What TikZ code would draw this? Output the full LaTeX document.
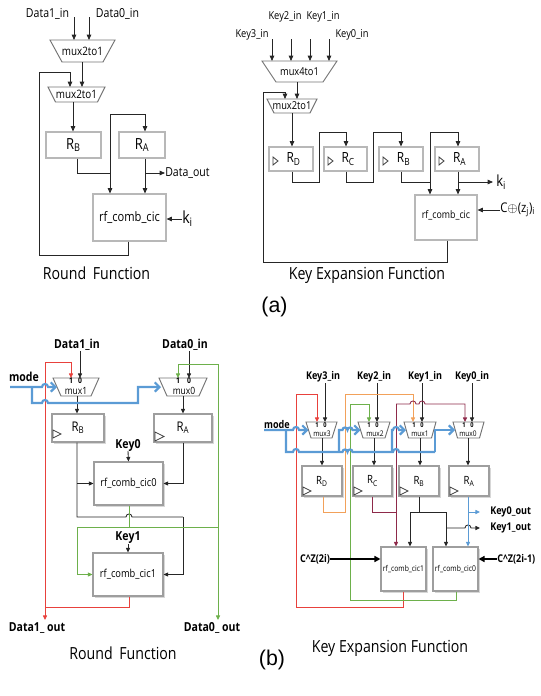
\documentclass[tikz,border=0pt]{standalone}
\usepackage{fontspec}
\setmainfont{Open Sans}
\newfontfamily\osf[FakeStretch=0.85]{Open Sans}
\newfontfamily\arf{Liberation Sans}
\usetikzlibrary{arrows.meta,shadows}
\newcommand\myfs[1]{\fontsize{#1}{#1}\selectfont}
\newcommand\hop[2]{-- (#1-3,#2) .. controls (#1-3,#2-4) and (#1+3,#2-4) .. (#1+3,#2)}
\newcommand\hopp[2]{-- (#1-2.5,#2) .. controls (#1-2.5,#2-3.4) and (#1+2.5,#2-3.4) .. (#1+2.5,#2)}
\newcommand\muxdraw[2]{\draw[muxline] (#1.north west) -- (#1.north east) -- ([xshift=-#2*0.75pt]#1.south east) -- ([xshift=#2*0.75pt]#1.south west) -- cycle;}
\newcommand\clk[4]{\draw[clkline] (#1,#2) -- (#1+#3,#2+#4/2) -- (#1,#2+#4) -- cycle;}
\definecolor{wred}{HTML}{E8413C}
\definecolor{wgreen}{HTML}{6DB04B}
\definecolor{worange}{HTML}{F2A15A}
\definecolor{wpurple}{HTML}{8E2A4A}
\definecolor{wblue}{HTML}{5B9BD5}
\tikzset{
 wire/.style={draw=black!85, line width=0.65pt},
 arr/.style={wire, -{Triangle[length=4pt,width=3.4pt]}},
 sarr/.style={wire, -{Triangle[length=3.4pt,width=3pt]}},
 tarr/.style={draw=black, line width=1.4pt, -{Triangle[length=4.5pt,width=4.5pt]}},
 cw/.style={draw=#1, line width=0.65pt},
 carr/.style={draw=#1, line width=0.65pt, -{Triangle[length=3.4pt,width=3pt]}},
 bw/.style={draw=wblue, line width=1.6pt, line join=miter},
 barr/.style={bw, -{Straight Barb[length=3.5pt,width=7pt]}},
 bx/.style={draw=black!28, line width=0.8pt, fill=white, inner sep=0pt},
 bbx/.style={draw=black!38, line width=0.8pt, fill=white, inner sep=0pt,
   drop shadow={shadow xshift=1.3pt, shadow yshift=-1.3pt, opacity=0.35, fill=black!45}},
 sz/.style 2 args={minimum width=#1*0.75pt, minimum height=#2*0.75pt},
 muxn/.style={inner sep=0pt, outer sep=0pt},
 muxline/.style={draw=black!55, line width=0.7pt},
 clkline/.style={draw=black!75, line width=0.6pt},
 la/.style={font={\osf\myfs{9.3}}, inner sep=0pt},
 lk/.style={font={\osf\myfs{8.2}}, inner sep=0pt},
 bl/.style={font={\osf\bfseries\myfs{9.3}}, inner sep=0pt},
 bk/.style={font={\osf\bfseries\myfs{8}}, inner sep=0pt},
 dg/.style={font={\osf\bfseries\myfs{#1}}, inner sep=0pt},
 title/.style={font={\osf\myfs{12.5}}, inner sep=0pt}
}
\begin{document}
\begin{tikzpicture}[x=0.75pt,y=-0.75pt]
\useasboundingbox (0,0) rectangle (541,696);

% ================= (a) Round Function =================
\node[la] (ad1) at (47.5,14) {Data1\_in};
\node[la] (ad0) at (117.5,14) {Data0\_in};
\node[muxn,sz={65}{22},font={\osf\myfs{8.7}}] (am1) at (82.5,51) {mux2to1};
\muxdraw{am1}{12}
\node[muxn,sz={57}{15},font={\osf\myfs{8.7}}] (am2) at (76.5,94.5) {mux2to1};
\muxdraw{am2}{7.5}
\node[bx,sz={55}{26},font={\osf\myfs{11.5}}] (arb) at (73.5,145) {R\textsubscript{B}};
\node[bx,sz={46}{26},font={\osf\myfs{11.5}}] (ara) at (142,145) {R\textsubscript{A}};
\node[bx,sz={73}{47},font={\osf\myfs{9.8}}] (arf) at (129.5,217.5) {rf\_comb\_cic};
\node[font={\osf\myfs{12.5}},inner sep=0pt,anchor=west] (aki) at (182,219) {k\textsubscript{i}};
\node[la,anchor=west] (adout) at (165,173) {Data\_out};
\node[title] (atl) at (96.5,273) {Round\hspace{5pt}Function};

\draw[arr] (74,17) -- (74,0 |- am1.north);
\draw[arr] (89,17) -- (89,0 |- am1.north);
\draw[arr] (82,0 |- am1.south) -- (82,0 |- am2.north);
\draw[arr] (128,0 |- arf.south) -- (128,255) -- (39,255) -- (39,72) -- (70,72) -- (70,0 |- am2.north);
\draw[arr] (73,0 |- am2.south) -- (73,0 |- arb.north);
\draw[wire] (77,0 |- arb.south) -- (77,173) -- (110,173);
\draw[arr] (110,114) -- (110,0 |- arf.north);
\draw[arr] (110,114) -- (145,114) -- (145,0 |- ara.north);
\draw[arr] (145,0 |- ara.south) -- (145,0 |- arf.north);
\draw[arr] (145,173) -- (adout.west);
\draw[arr] (aki.west) -- (arf.east |- aki.west);

% ================= (a) Key Expansion =================
\node[lk] (ak2) at (285,17) {Key2\_in};
\node[lk] (ak1) at (323,17) {Key1\_in};
\node[lk] (ak3) at (252,35) {Key3\_in};
\node[lk] (ak0) at (352,35) {Key0\_in};
\node[muxn,sz={75}{21},font={\osf\myfs{8.2}}] (am4) at (299.5,71.5) {mux4to1};
\muxdraw{am4}{14}
\node[muxn,sz={50}{14},font={\osf\myfs{8.2}}] (am5) at (292,106) {mux2to1};
\muxdraw{am5}{7}
\node[bx,sz={44}{24},font={\osf\myfs{10.5}}] (akd) at (291,159) {\hspace{4pt}R\textsubscript{D}};
\node[bx,sz={43}{24},font={\osf\myfs{10.5}}] (akc) at (345.5,159) {\hspace{4pt}R\textsubscript{C}};
\node[bx,sz={44}{24},font={\osf\myfs{10.5}}] (akb) at (401,159) {\hspace{4pt}R\textsubscript{B}};
\node[bx,sz={44}{24},font={\osf\myfs{10.5}}] (aka) at (457,159) {\hspace{4pt}R\textsubscript{A}};
\clk{273}{157}{5}{8}
\clk{328}{157}{5}{8}
\clk{383}{157}{5}{8}
\clk{439}{157}{5}{8}
\node[bx,sz={62}{45},font={\osf\myfs{7.8}}] (akf) at (446,217.5) {\raisebox{4pt}{rf\_comb\_cic}};
\node[font={\osf\myfs{11.5}},inner sep=0pt,anchor=west] (akki) at (496,182) {k\textsubscript{i}};
\node[font={\osf\myfs{10}},inner sep=0pt,anchor=west] (akcz) at (500,210) {C$\oplus$(z\textsubscript{j})\textsubscript{i}};
\node[title] (aktl) at (367,275) {Key Expansion Function};

\draw[arr] (272,39) -- (272,0 |- am4.north);
\draw[arr] (291,39) -- (291,0 |- am4.north);
\draw[arr] (310,39) -- (310,0 |- am4.north);
\draw[arr] (329,39) -- (329,0 |- am4.north);
\draw[arr] (297,0 |- am4.south) -- (297,0 |- am5.north);
\draw[arr] (447,0 |- akf.south) -- (447,262) -- (263,262) -- (263,92) -- (285,92) -- (285,0 |- am5.north);
\draw[arr] (292,0 |- am5.south) -- (292,0 |- akd.north);
\draw[arr] (292,0 |- akd.south) -- (292,182) -- (319,182) -- (319,132) -- (346,132) -- (346,0 |- akc.north);
\draw[arr] (346,0 |- akc.south) -- (346,182) -- (373,182) -- (373,132) -- (401,132) -- (401,0 |- akb.north);
\draw[wire] (401,0 |- akb.south) -- (401,182) -- (430,182);
\draw[arr] (430,132) -- (430,0 |- akf.north);
\draw[arr] (430,132) -- (458,132) -- (458,0 |- aka.north);
\draw[arr] (458,0 |- aka.south) -- (458,0 |- akf.north);
\draw[arr] (458,182) -- (493,182);
\draw[arr] (akcz.west) -- (akf.east |- akcz.west);

% ================= (a) (b) =================
\node[font={\arf\myfs{16}},inner sep=0pt] (capa) at (274.5,307) {(a)};
\node[font={\arf\myfs{16}},inner sep=0pt] (capb) at (272,660) {(b)};

% ================= (b) Round Function =================
\node[bl] (bd1) at (77,345) {Data1\_in};
\node[bl] (bd0) at (185,345) {Data0\_in};
\node[bl] (bmode) at (24,377) {mode};
\node[muxn,sz={46}{18}] (bm1) at (76,387) {};
\muxdraw{bm1}{8}
\node[font={\osf\myfs{7.5}},inner sep=0pt] (bm1t) at (76,391) {mux1};
\node[dg=6] (bm1a) at (71,381) {1};
\node[dg=6] (bm1b) at (80,381) {0};
\node[muxn,sz={48}{18}] (bm0) at (183,387) {};
\muxdraw{bm0}{8}
\node[font={\osf\myfs{7.5}},inner sep=0pt] (bm0t) at (184,391) {mux0};
\node[dg=6] (bm0a) at (178,381) {1};
\node[dg=6] (bm0b) at (189,381) {0};
\node[bbx,sz={52}{28},font={\osf\myfs{10}}] (brb) at (78,428) {R\textsubscript{B}};
\node[bbx,sz={58}{28},font={\osf\myfs{10}}] (bra) at (183,428) {R\textsubscript{A}};
\clk{53}{430}{8}{8}
\clk{155}{432}{9}{9}
\node[bl] (bk0) at (128,445) {Key0};
\node[bbx,sz={69}{43},font={\osf\myfs{8.2}}] (bc0) at (128.5,483.5) {rf\_comb\_cic0};
\node[bl] (bk1) at (128,538) {Key1};
\node[bbx,sz={70}{43},font={\osf\myfs{8.2}}] (bc1) at (128,574.5) {rf\_comb\_cic1};
\node[bl] (bd1o) at (37,628) {Data1\_ out};
\node[bl] (bd0o) at (212,628) {Data0\_ out};
\node[title] (btl) at (123,653) {Round\hspace{5pt}Function};

\draw[sarr] (80,351) -- (80,0 |- bm1.north);
\draw[sarr] (189,351) -- (189,0 |- bm0.north);
\draw[sarr] (77,0 |- bm1.south) -- (77,0 |- brb.north);
\draw[sarr] (183,0 |- bm0.south) -- (183,0 |- bra.north);
\draw[sarr] (128,451) -- (bc0.north);
\draw[sarr] (128,544) -- (bc1.north);
\draw[sarr] (77,0 |- bc0.west) -- (bc0.west);
\draw[wire] (77,0 |- brb.south) -- (77,517) \hop{129}{517} -- (183,517);
\draw[sarr] (183,517) -- (183,0 |- bc1.east) -- (bc1.east);
\draw[sarr] (183,0 |- bra.south) -- (183,0 |- bc0.east) -- (bc0.east);
% red
\draw[carr=wred] (45,362) -- (71,362) -- (71,0 |- bm1.north);
\draw[carr=wred] (45,362) -- (45,620);
\draw[cw=wred] (129,0 |- bc1.south) -- (129,607) -- (45,607);
% green
\draw[carr=wgreen] (218,364) -- (178,364) -- (178,0 |- bm0.north);
\draw[carr=wgreen] (218,364) -- (218,620);
\draw[cw=wgreen] (129,0 |- bc0.south) -- (129,527);
\draw[cw=wgreen] (77,527) -- (218,527);
\draw[carr=wgreen] (77,527) -- (77,0 |- bc1.west) -- (bc1.west);
% blue mode
\draw[barr] (10,387) \hop{45}{387} -- (57,387);
\draw[barr] (32,387) -- (32,403) \hop{45}{403} -- (138,403) -- (138,387) -- (161,387);

% ================= (b) Key Expansion =================
\node[bk] (bk3i) at (323,377) {Key3\_in};
\node[bk] (bk2i) at (374,377) {Key2\_in};
\node[bk] (bk1i) at (425,377) {Key1\_in};
\node[bk] (bk0i) at (472,377) {Key0\_in};
\node[bk] (bmode2) at (277,424) {mode};
\node[muxn,sz={31}{16}] (bx3) at (321.5,430) {};
\muxdraw{bx3}{5}
\node[muxn,sz={32}{16}] (bx2) at (374,430) {};
\muxdraw{bx2}{5}
\node[muxn,sz={32}{16}] (bx1) at (420,430) {};
\muxdraw{bx1}{4.5}
\node[muxn,sz={31}{16}] (bx0) at (468.5,430) {};
\muxdraw{bx0}{4.5}
\node[font={\osf\myfs{5.8}},inner sep=0pt] (bx3t) at (322,433.5) {mux3};
\node[font={\osf\myfs{5.8}},inner sep=0pt] (bx2t) at (375,433.5) {mux2};
\node[font={\osf\myfs{5.8}},inner sep=0pt] (bx1t) at (420,433.5) {mux1};
\node[font={\osf\myfs{5.8}},inner sep=0pt] (bx0t) at (468,433.5) {mux0};
\node[dg=5] (d31) at (317,425) {1};
\node[dg=5] (d30) at (325,425) {0};
\node[dg=5] (d21) at (369,425) {1};
\node[dg=5] (d20) at (377,425) {0};
\node[dg=5] (d11) at (414,425) {1};
\node[dg=5] (d10) at (422,425) {0};
\node[dg=5] (d01) at (464,425) {1};
\node[dg=5] (d00) at (472,425) {0};
\node[bbx,sz={40}{30},font={\osf\myfs{8.5}}] (brd) at (322,481) {R\textsubscript{D}};
\node[bbx,sz={39}{30},font={\osf\myfs{8.5}}] (brc) at (372.5,481) {R\textsubscript{C}};
\node[bbx,sz={40}{30},font={\osf\myfs{8.5}}] (brbb) at (419,481) {R\textsubscript{B}};
\node[bbx,sz={40}{30},font={\osf\myfs{8.5}}] (braa) at (469,481) {R\textsubscript{A}};
\clk{303}{487}{8}{8}
\clk{354}{487}{8}{8}
\clk{400}{487}{8}{8}
\clk{450}{487}{8}{8}
\node[bbx,sz={45}{44},font={\osf\myfs{6}}] (bcc1) at (403.5,569) {rf\_comb\_cic1};
\node[bbx,sz={45}{44},font={\osf\myfs{6}}] (bcc0) at (455.5,569) {rf\_comb\_cic0};
\node[bk,anchor=west] (bk0o) at (490,512) {Key0\_out};
\node[bk,anchor=west] (bk1o) at (490,528) {Key1\_out};
\node[bk] (bczl) at (315,559) {C\^{}Z(2i)};
\node[bk,anchor=west] (bczr) at (497,559) {C\^{}Z(2i-1)};
\node[title] (bktl) at (390,648) {Key Expansion Function};

\draw[sarr] (325,383) -- (325,0 |- bx3.north);
\draw[sarr] (377,383) -- (377,0 |- bx2.north);
\draw[sarr] (422,383) -- (422,0 |- bx1.north);
\draw[sarr] (472,383) -- (472,0 |- bx0.north);
\draw[sarr] (322,0 |- bx3.south) -- (322,0 |- brd.north);
\draw[sarr] (374,0 |- bx2.south) -- (374,0 |- brc.north);
\draw[sarr] (420,0 |- bx1.south) -- (420,0 |- brbb.north);
\draw[sarr] (468,0 |- bx0.south) -- (468,0 |- braa.north);
% red
\draw[carr=wred] (296,394) -- (317,394) -- (317,0 |- bx3.north);
\draw[cw=wred] (403,0 |- bcc1.south) -- (403,607) -- (296,607) -- (296,394);
% orange
\draw[carr=worange] (323,0 |- brd.south) -- (323,512) -- (345,512) -- (345,394) -- (413,394) -- (413,0 |- bx1.north);
% green
\draw[carr=wgreen] (456,0 |- bcc0.south) -- (456,600) -- (350,600) -- (350,404) -- (369,404) -- (369,0 |- bx2.north);
% purple
\draw[cw=wpurple] (372,0 |- brc.south) -- (372,512) -- (396,512);
\draw[carr=wpurple] (396,404) -- (396,0 |- bcc1.north);
\draw[carr=wpurple] (396,404) \hop{413}{404} \hop{422}{404} -- (465,404) -- (465,0 |- bx0.north);
% black from RB
\draw[wire] (419,0 |- brbb.south) -- (419,512);
\draw[sarr] (419,512) -- (410,512) -- (410,0 |- bcc1.north);
\draw[sarr] (419,512) -- (446,512) -- (446,0 |- bcc0.north);
\draw[sarr] (446,528) \hop{468}{528} -- (480,528);
% thin blue from RA
\draw[carr=wblue] (468,0 |- braa.south) -- (468,0 |- bcc0.north);
\draw[carr=wblue] (468,512) -- (480,512);
% constants
\draw[tarr] (bczl.east) -- (bcc1.west |- bczl.east);
\draw[tarr] (bczr.west) -- (bcc0.east |- bczr.west);
% blue mode
\draw[barr] (264,430) \hop{296}{430} -- (308.5,430);
\draw[bw] (286,430) -- (286,452) \hop{296}{452} -- (322,452) \hopp{345}{452} \hopp{350}{452} -- (392,452) \hop{396}{452} -- (435,452);
\draw[barr] (339,452) -- (339,430) \hopp{345}{430} \hopp{350}{430} -- (360.5,430);
\draw[barr] (392,452) -- (392,430) \hop{396}{430} -- (406,430);
\draw[barr] (435,452) -- (435,430) -- (455,430);
\end{tikzpicture}
\end{document}
